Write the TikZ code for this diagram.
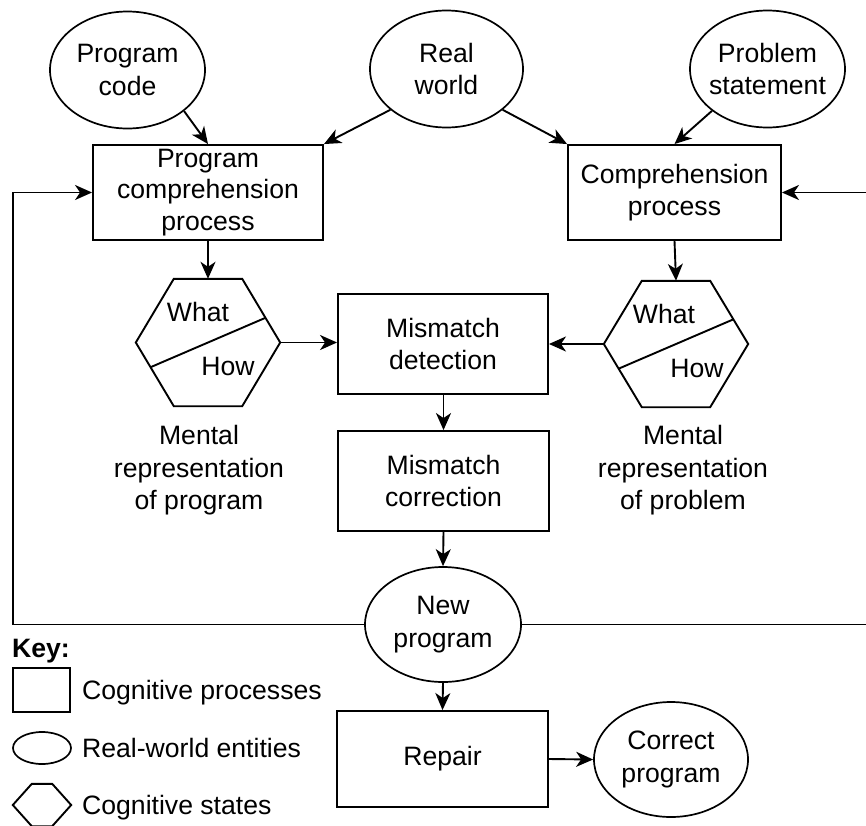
\documentclass[tikz,border=0pt]{standalone}
\usepackage{fontspec}
\setmainfont{Liberation Sans}
\usetikzlibrary{shapes.geometric, arrows.meta, calc}

% Common text size for all labels
\newcommand{\diagfont}{\fontsize{26.6}{31.5}\selectfont}

% Hexagon outline over a named frame node; #2 is the horizontal inset of the top/bottom edges
\newcommand{\hexoutline}[2]{%
  \draw[stroke, line join=miter] (#1.west) -- ([xshift=#2]#1.north west)
    -- ([xshift=-#2]#1.north east) -- (#1.east)
    -- ([xshift=-#2]#1.south east) -- ([xshift=#2]#1.south west) -- cycle;}

\tikzset{
  every node/.style={font=\diagfont},
  stroke/.style={line width=1.9pt, draw=black},
  arrow/.style={stroke, -{Stealth[length=17pt, width=15pt, inset=5pt]}},
  process/.style={draw, line width=1.9pt, rectangle, inner sep=0pt, align=center},
  entity/.style={draw, line width=1.7pt, ellipse, inner sep=0pt},
  hexframe/.style={rectangle, inner sep=0pt},
  caption/.style={align=center, inner sep=0pt, font=\fontsize{26.6}{32.5}\selectfont},
  keytext/.style={anchor=base west, inner sep=0pt},
}

\begin{document}
\begin{tikzpicture}[x=1pt, y=-1pt]
  \useasboundingbox (0,0) rectangle (866,825);
  \clip (0,0) rectangle (866,825);

  % Real-world entities
  \node[entity, minimum width=155pt, minimum height=117pt,
        label={[caption]center:Program\\code}] (pc) at (127.5,70) {};
  \node[entity, minimum width=153pt, minimum height=117pt,
        label={[caption]center:Real\\world}] (rw) at (446.5,69) {};
  \node[entity, minimum width=155pt, minimum height=117pt,
        label={[caption]center:Problem\\statement}] (ps) at (767.5,69) {};

  % Comprehension processes
  \node[process, minimum width=230pt, minimum height=95pt] (pcp) at (208,192.5)
        {Program\\comprehension\\process};
  \node[process, minimum width=213pt, minimum height=95pt] (cp) at (674.5,192.5)
        {Comprehension\\process};

  % Mental representations (cognitive states)
  \node[hexframe, minimum width=144pt, minimum height=127pt] (hexL) at (208,342.5) {};
  \hexoutline{hexL}{38pt}
  \draw[stroke] ($(hexL)+(-57,24.5)$) -- ($(hexL)+(57,-24.5)$);
  \node (whatL) at ($(hexL)+(-10,-31)$) {What};
  \node (howL) at ($(hexL)+(20,24)$) {How};

  \node[hexframe, minimum width=144pt, minimum height=126pt] (hexR) at (676,344) {};
  \hexoutline{hexR}{38pt}
  \draw[stroke] ($(hexR)+(-57,24.5)$) -- ($(hexR)+(57,-24.5)$);
  \node (whatR) at ($(hexR)+(-12,-30)$) {What};
  \node (howR) at ($(hexR)+(21,24)$) {How};

  \node[caption] (mrp) at (199,470.5) {Mental\\representation\\of program};
  \node[caption] (mrq) at (683,470.5) {Mental\\representation\\of problem};

  % Mismatch handling
  \node[process, minimum width=210pt, minimum height=100pt] (md) at (443,344)
        {Mismatch\\detection};
  \node[process, minimum width=211pt, minimum height=100pt] (mc) at (443.5,481)
        {Mismatch\\correction};

  \node[entity, minimum width=156pt, minimum height=115pt,
        label={[caption]center:New\\program}] (np) at (443,624.5) {};
  \node[process, minimum width=211pt, minimum height=96pt] (rep) at (442.5,759) {Repair};
  \node[entity, minimum width=154pt, minimum height=115pt,
        label={[caption]center:Correct\\program}] (corr) at (671,759.5) {};

  % Connectors
  \draw[arrow] (pc.-36) -- (pcp.north);
  \draw[arrow] (rw.-144) -- (pcp.north east);
  \draw[arrow] (rw.-36.5) -- (cp.north west);
  \draw[arrow] (ps.-143.5) -- (cp.north);
  \draw[arrow] (pcp.south) -- (hexL.north);
  \draw[arrow] (cp.south) -- (hexR.north);
  \draw[arrow] (hexL.east) -- (md.west |- hexL.east);
  \draw[arrow] (hexR.west) -- (md.east |- hexR.west);
  \draw[arrow] (md.south) -- (mc.south |- md.south) -- (mc.north);
  \draw[arrow] (mc.south) -- (np.north);
  \draw[arrow] (np.south) -- (rep.north);
  \draw[arrow] (rep.east) -- (corr.west);

  % Feedback loops
  \coordinate (fbL) at (13,624.5);
  \coordinate (fbR) at (880,624.5);
  \draw[arrow] (np.west) -- (fbL) |- (pcp.west);
  \draw[arrow] (np.east) -- (fbR) |- (cp.east);

  % Key
  \node[keytext, font=\diagfont\bfseries] (keyhead) at (12,657) {Key:};
  \node[process, minimum width=57pt, minimum height=44pt] (keyrect) at (41.5,690) {};
  \node[keytext] (keyrectlbl) at (82,699) {Cognitive processes};
  \node[entity, minimum width=58pt, minimum height=32pt] (keyell) at (42,748) {};
  \node[keytext] (keyelllbl) at (82,757) {Real-world entities};
  \node[hexframe, minimum width=58pt, minimum height=42pt] (keyhex) at (42,805) {};
  \hexoutline{keyhex}{19pt}
  \node[keytext] (keyhexlbl) at (82,814) {Cognitive states};
\end{tikzpicture}
\end{document}
